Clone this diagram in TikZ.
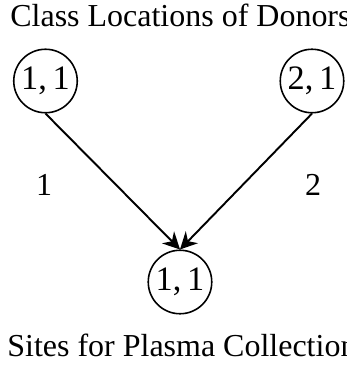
\documentclass[tikz,border=0pt]{standalone}
\usepackage{fontspec}
\setmainfont{Liberation Serif}
\usetikzlibrary{arrows.meta}

\begin{document}
\begin{tikzpicture}[
  font=\fontsize{18.2}{22}\selectfont,
  site/.style={draw, circle, line width=0.9pt, minimum size=1.27cm, inner sep=0pt, font=\fontsize{19.5}{22}\selectfont},
  flow/.style={line width=1.1pt, -{Stealth[length=0.34cm, width=0.34cm, inset=0.11cm]}}
]
\useasboundingbox (0,0) rectangle (6.92,-7.42);
\node[anchor=base west, inner sep=0pt] (donors) at (0.2,-0.54) {Class Locations of Donors};
\node[site] (d1) at (0.91,-1.62) {1,\,1};
\node[site] (d2) at (6.24,-1.62) {2,\,1};
\node[site] (p1) at (3.6,-5.64) {1,\,1};
\node (w1) at (0.88,-3.7) {1};
\node (w2) at (6.26,-3.7) {2};
\draw[flow] (d1.south) -- (p1.north);
\draw[flow] (d2.south) -- (p1.north);
\node[anchor=base west, inner sep=0pt] (plasma) at (0.14,-7.12) {Sites for Plasma Collection};
\end{tikzpicture}
\end{document}
